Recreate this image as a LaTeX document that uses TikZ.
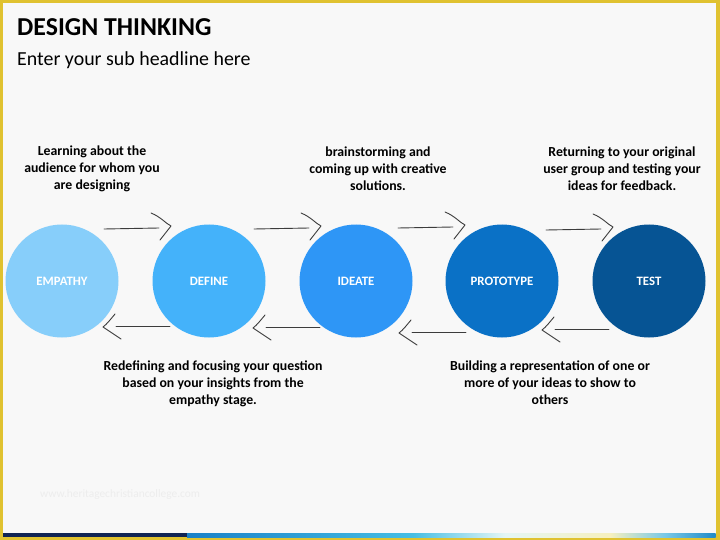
\documentclass[tikz,border=0pt]{standalone}
\usepackage{fontspec}
\setmainfont{Carlito}
\definecolor{frameY}{RGB}{224,194,48}
\definecolor{bgc}{RGB}{248,248,248}
\definecolor{cEmp}{RGB}{135,206,250}
\definecolor{cDef}{RGB}{68,178,250}
\definecolor{cIde}{RGB}{46,150,246}
\definecolor{cPro}{RGB}{10,113,198}
\definecolor{cTes}{RGB}{6,84,148}
\definecolor{navy}{RGB}{16,36,84}
\definecolor{arr}{RGB}{60,60,60}
\definecolor{bA}{RGB}{25,128,200}
\definecolor{bB}{RGB}{70,190,228}
\definecolor{bC}{RGB}{228,246,246}
\definecolor{bD}{RGB}{246,240,190}
\definecolor{bE}{RGB}{120,200,232}
\definecolor{bF}{RGB}{32,138,200}
\tikzset{
  stage/.style={circle, minimum size=113pt, inner sep=0pt, text=white,
    font=\fontsize{12.8}{14}\selectfont\bfseries},
  desc/.style={align=center, text=black, font=\fontsize{13.8}{17}\selectfont\bfseries},
  arrline/.style={draw=arr, line width=0.9pt, line cap=round, line join=round},
  fwdarrow/.pic={
    \draw[arrline] (-67,3) -- (-12,2);
    \draw[arrline] (-20,-13) .. controls (-10,-9) and (-6,-3) .. (0,0) -- (-11,14);
  },
  backarrow/.pic={
    \draw[arrline] (67,-1) -- (13,-1);
    \draw[arrline] (12,-13) .. controls (7,-7) and (4,-3) .. (0,0) -- (18,12);
  }
}
\begin{document}
\begin{tikzpicture}[x=1pt,y=-1pt]
\useasboundingbox (0,0) rectangle (720,540);
\fill[frameY] (0,0) rectangle (720,540);
\fill[bgc] (3,3) rectangle (715.5,537);
% bottom bar
\fill[navy] (3,533) rectangle (187,537);
\shade[left color=bA, right color=bB] (187,533) rectangle (413,537);
\shade[left color=bB, right color=bC] (413,533) rectangle (505,537);
\shade[left color=bC, right color=bD] (505,533) rectangle (610,537);
\shade[left color=bD, right color=bE] (610,533) rectangle (665,537);
\shade[left color=bE, right color=bF] (665,533) rectangle (715.5,537);
% titles
\node[anchor=base west, inner sep=0pt, font=\fontsize{25.8}{30}\selectfont\bfseries] (title) at (17,36) {DESIGN THINKING};
\node[anchor=base west, inner sep=0pt, font=\fontsize{19.9}{24}\selectfont] (sub) at (17,66) {Enter your sub headline here};
\node[anchor=base west, inner sep=0pt, text=black!7, font=\fontsize{11.4}{13}\selectfont] (wm) at (40,497) {www.heritagechristiancollege.com};
% stages
\node[stage, fill=cEmp] (emp) at (62,281) {EMPATHY};
\node[stage, fill=cDef] (def) at (209,281) {DEFINE};
\node[stage, fill=cIde] (ide) at (356,281) {IDEATE};
\node[stage, fill=cPro] (pro) at (502,281) {PROTOTYPE};
\node[stage, fill=cTes] (tes) at (649,281) {TEST};
% descriptions
\node[desc] (d1) at (92,169) {Learning about the\\audience for whom you\\are designing};
\node[desc] (d3) at (378,169) {brainstorming and\\coming up with creative\\solutions.};
\node[desc] (d5) at (622,169) {Returning to your original\\user group and testing your\\ideas for feedback.};
\node[desc] (d2) at (213,384) {Redefining and focusing your question\\based on your insights from the\\empathy stage.};
\node[desc] (d4) at (550,383) {Building a representation of one or\\more of your ideas to show to\\others};
% arrows
\pic at (171,226) {fwdarrow};
\pic at (321,226) {fwdarrow};
\pic at (465,225) {fwdarrow};
\pic at (613,227) {fwdarrow};
\pic at (103,327) {backarrow};
\pic at (253,328) {backarrow};
\pic at (399,333) {backarrow};
\pic at (542,330) {backarrow};
\end{tikzpicture}
\end{document}
